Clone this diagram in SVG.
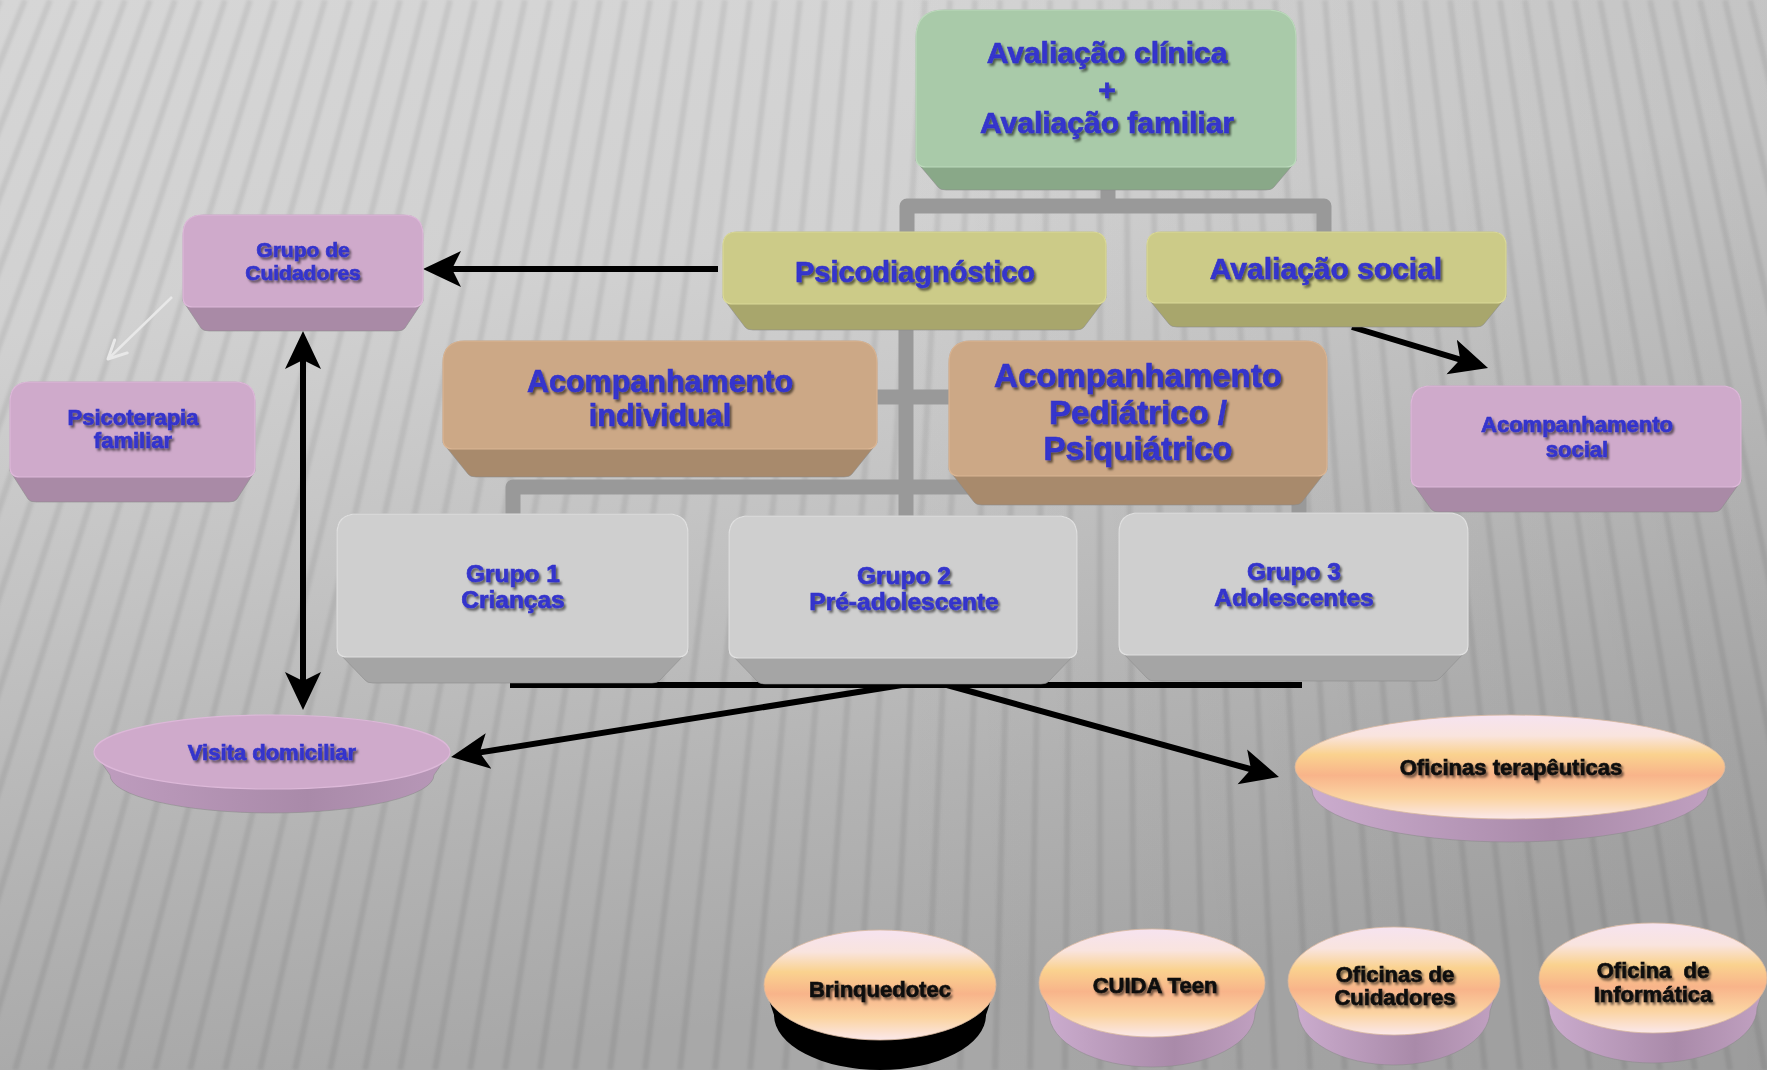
<svg xmlns="http://www.w3.org/2000/svg" width="1767" height="1070" viewBox="0 0 1767 1070">
<defs>
  <linearGradient id="bg" x1="0" y1="0" x2="0.2" y2="1">
    <stop offset="0" stop-color="#d6d6d6"/>
    <stop offset="0.3" stop-color="#d1d1d1"/>
    <stop offset="0.55" stop-color="#c3c3c3"/>
    <stop offset="0.8" stop-color="#b3b3b3"/>
    <stop offset="1" stop-color="#a8a8a8"/>
  </linearGradient>
  <linearGradient id="bgR" x1="0" y1="0" x2="1" y2="0">
    <stop offset="0.5" stop-color="#000" stop-opacity="0"/>
    <stop offset="1" stop-color="#000" stop-opacity="0.07"/>
  </linearGradient>
  <linearGradient id="peach" x1="0" y1="0" x2="0" y2="1">
    <stop offset="0" stop-color="#f6e3f0"/>
    <stop offset="0.2" stop-color="#f9e4de"/>
    <stop offset="0.38" stop-color="#fad28f"/>
    <stop offset="0.58" stop-color="#f8b48a"/>
    <stop offset="0.8" stop-color="#fbd4a2"/>
    <stop offset="1" stop-color="#fbe8ea"/>
  </linearGradient>
  <linearGradient id="lilac" x1="0" y1="0" x2="1" y2="0">
    <stop offset="0" stop-color="#cdaed0"/>
    <stop offset="0.6" stop-color="#a98aa9"/>
    <stop offset="1" stop-color="#c2a2c2"/>
  </linearGradient>
  <linearGradient id="pinkBody" x1="0" y1="0" x2="1" y2="0">
    <stop offset="0" stop-color="#bf9dbf"/>
    <stop offset="0.6" stop-color="#a98aa9"/>
    <stop offset="1" stop-color="#b898b8"/>
  </linearGradient>
  <filter id="ts" x="-10%" y="-30%" width="120%" height="160%">
    <feDropShadow dx="2" dy="2.5" stdDeviation="1.2" flood-color="#000" flood-opacity="0.55"/>
  </filter>
  <filter id="blur" x="-5%" y="-5%" width="110%" height="110%">
    <feGaussianBlur stdDeviation="1.6"/>
  </filter>
  <marker id="ah" viewBox="0 0 40 40" markerWidth="40" markerHeight="40" refX="10" refY="20" orient="auto-start-reverse" markerUnits="userSpaceOnUse">
    <path d="M0,2 L38,20 L0,38 L9,20 Z" fill="#000"/>
  </marker>
  <marker id="ahl" viewBox="0 0 24 24" markerWidth="24" markerHeight="24" refX="21" refY="12" orient="auto" markerUnits="userSpaceOnUse">
    <path d="M3,3 L21,12 L3,21" fill="none" stroke="#e8e8e8" stroke-width="3" stroke-linecap="round" stroke-linejoin="round"/>
  </marker>
</defs>
<style>
  .t { font-family: "Liberation Sans", Arial, sans-serif; font-weight: bold; text-anchor: middle; fill: #3434cc; stroke: #3434cc; stroke-width: 0.7; filter: url(#ts); }
  .k { fill: #111; stroke: #111; }
  .edge { stroke: #8a8a8a; stroke-width: 0.8; stroke-opacity: 0.7; }
  .gb { fill: #89a888; } .gf { fill: #a9caa9; stroke: #bcdabc; stroke-width: 1.2; }
  .yb { fill: #a8a66c; } .yf { fill: #cccb88; stroke: #dad997; stroke-width: 1.2; }
  .tb { fill: #a88a6c; } .tf { fill: #cca886; stroke: #dab593; stroke-width: 1.2; }
  .pb { fill: #a98aa6; } .pf { fill: #cfaacb; stroke: #ddb8d9; stroke-width: 1.2; }
  .sb { fill: #a5a5a5; } .sf { fill: #cfcfcf; stroke: #e0e0e0; stroke-width: 1.2; }
  .gray { fill: none; stroke: #999; stroke-width: 15; stroke-linejoin: round; }
  .blk { fill: none; stroke: #000; stroke-width: 6; }
</style>

<rect x="0" y="0" width="1767" height="1070" fill="url(#bg)"/>
<rect x="0" y="0" width="1767" height="1070" fill="url(#bgR)"/>
<g filter="url(#blur)" stroke="#000" stroke-opacity="0.07" stroke-width="6" fill="none">
  <path d="M0,0 L-440,1070 M25,0 L-405,1070 M50,0 L-370,1070 M75,0 L-335,1070 M100,0 L-300,1070 M125,0 L-265,1070 M150,0 L-230,1070 M175,0 L-195,1070 M200,0 L-160,1070 M225,0 L-125,1070 M250,0 L-90,1070 M275,0 L-55,1070 M300,0 L-20,1070 M325,0 L15,1070 M350,0 L50,1070 M375,0 L85,1070 M400,0 L120,1070 M425,0 L155,1070 M450,0 L190,1070 M475,0 L225,1070 M500,0 L260,1070 M525,0 L295,1070 M550,0 L330,1070 M575,0 L365,1070 M600,0 L400,1070 M625,0 L435,1070 M650,0 L470,1070 M675,0 L505,1070 M700,0 L540,1070 M725,0 L575,1070 M750,0 L610,1070 M775,0 L645,1070 M800,0 L680,1070 M825,0 L715,1070 M850,0 L750,1070 M875,0 L785,1070 M900,0 L820,1070 M925,0 L855,1070 M950,0 L890,1070 M975,0 L925,1070 M1000,0 L960,1070 M1025,0 L995,1070 M1050,0 L1030,1070 M1075,0 L1065,1070 M1100,0 L1100,1070 M1125,0 L1135,1070 M1150,0 L1170,1070 M1175,0 L1205,1070 M1200,0 L1240,1070 M1225,0 L1275,1070 M1250,0 L1310,1070 M1275,0 L1345,1070 M1300,0 L1380,1070 M1325,0 L1415,1070 M1350,0 L1450,1070 M1375,0 L1485,1070 M1400,0 L1520,1070 M1425,0 L1555,1070 M1450,0 L1590,1070 M1475,0 L1625,1070 M1500,0 L1660,1070 M1525,0 L1695,1070 M1550,0 L1730,1070 M1575,0 L1765,1070 M1600,0 L1800,1070 M1625,0 L1835,1070 M1650,0 L1870,1070 M1675,0 L1905,1070 M1700,0 L1940,1070 M1725,0 L1975,1070 M1750,0 L2010,1070 M1775,0 L2045,1070"/>
</g>

<g id="connectors">
  <path class="gray" d="M1108,185 V206"/>
  <path class="gray" d="M907,236 V206 H1324 V236"/>
  <path class="gray" d="M906,326 V520"/>
  <path class="gray" d="M873,397 H953"/>
  <path class="gray" d="M513,518 V487 H1299 V517"/>
  <path class="blk" d="M510,685 H1302"/>
  <path class="blk" d="M718,269 H451" marker-end="url(#ah)"/>
  <path class="blk" d="M303,359 V682" marker-start="url(#ah)" marker-end="url(#ah)"/>
  <path class="blk" d="M902,685 L478.7,752.6" marker-end="url(#ah)"/>
  <path class="blk" d="M947,685 L1252,769.5" marker-end="url(#ah)"/>
  <path class="blk" d="M1352,327 L1461.2,359.9" marker-end="url(#ah)"/>
  <path d="M172,297 L108,359" fill="none" stroke="#e8e8e8" stroke-width="2.5" marker-end="url(#ahl)"/>
</g>

<g id="avaliacao-clinica">
  <path class="gb edge" d="M944,10 H1268 Q1296,10 1296,38 V161 L1274,187 Q1272,190 1266,190 H946 Q940,190 938,187 L916,161 V38 Q916,10 944,10 Z"/>
  <path class="gf" d="M944,10 H1268 Q1296,10 1296,38 V157 Q1296,167 1286,167 H926 Q916,167 916,157 V38 Q916,10 944,10 Z"/>
  <text class="t" x="1107" y="63" font-size="30">Avaliação clínica</text>
  <text class="t" x="1107" y="100" font-size="30">+</text>
  <text class="t" x="1107" y="133" font-size="30">Avaliação familiar</text>
</g>

<g id="psicodiagnostico">
  <path class="yb edge" d="M737,232 H1092 Q1106,232 1106,246 V298 L1084,327 Q1082,330 1076,330 H753 Q747,330 745,327 L723,298 V246 Q723,232 737,232 Z"/>
  <path class="yf" d="M737,232 H1092 Q1106,232 1106,246 V294 Q1106,304 1096,304 H733 Q723,304 723,294 V246 Q723,232 737,232 Z"/>
  <text class="t" x="915" y="282" font-size="29">Psicodiagnóstico</text>
</g>

<g id="avaliacao-social">
  <path class="yb edge" d="M1161,232 H1492 Q1506,232 1506,246 V297 L1484,324 Q1482,327 1476,327 H1177 Q1171,327 1169,324 L1147,297 V246 Q1147,232 1161,232 Z"/>
  <path class="yf" d="M1161,232 H1492 Q1506,232 1506,246 V293 Q1506,303 1496,303 H1157 Q1147,303 1147,293 V246 Q1147,232 1161,232 Z"/>
  <text class="t" x="1326" y="279" font-size="30">Avaliação social</text>
</g>

<g id="grupo-cuidadores">
  <path class="pb edge" d="M203,215 H403 Q423,215 423,235 V301 L405,328 Q403,331 397,331 H209 Q203,331 201,328 L183,301 V235 Q183,215 203,215 Z"/>
  <path class="pf" d="M203,215 H403 Q423,215 423,235 V297 Q423,307 413,307 H193 Q183,307 183,297 V235 Q183,215 203,215 Z"/>
  <text class="t" x="303" y="257" font-size="21">Grupo de</text>
  <text class="t" x="303" y="280" font-size="21">Cuidadores</text>
</g>

<g id="psicoterapia-familiar">
  <path class="pb edge" d="M30,382 H235 Q255,382 255,402 V471 L237,499 Q235,502 229,502 H36 Q30,502 28,499 L10,471 V402 Q10,382 30,382 Z"/>
  <path class="pf" d="M30,382 H235 Q255,382 255,402 V467 Q255,477 245,477 H20 Q10,477 10,467 V402 Q10,382 30,382 Z"/>
  <text class="t" x="133" y="425" font-size="22">Psicoterapia</text>
  <text class="t" x="133" y="448" font-size="22">familiar</text>
</g>

<g id="acompanhamento-individual">
  <path class="tb edge" d="M465,341 H855 Q877,341 877,363 V443 L852,474 Q850,477 844,477 H476 Q470,477 468,474 L443,443 V363 Q443,341 465,341 Z"/>
  <path class="tf" d="M465,341 H855 Q877,341 877,363 V439 Q877,449 867,449 H453 Q443,449 443,439 V363 Q443,341 465,341 Z"/>
  <text class="t" x="660" y="392" font-size="30.5">Acompanhamento</text>
  <text class="t" x="660" y="426" font-size="30.5">individual</text>
</g>

<g id="acompanhamento-pediatrico">
  <path class="tb edge" d="M971,341 H1305 Q1327,341 1327,363 V470 L1302,502 Q1300,505 1294,505 H982 Q976,505 974,502 L949,470 V363 Q949,341 971,341 Z"/>
  <path class="tf" d="M971,341 H1305 Q1327,341 1327,363 V466 Q1327,476 1317,476 H959 Q949,476 949,466 V363 Q949,341 971,341 Z"/>
  <text class="t" x="1138" y="387" font-size="33">Acompanhamento</text>
  <text class="t" x="1138" y="424" font-size="33">Pediátrico /</text>
  <text class="t" x="1138" y="460" font-size="33">Psiquiátrico</text>
</g>

<g id="acompanhamento-social">
  <path class="pb edge" d="M1431,386 H1721 Q1741,386 1741,406 V481 L1721,509 Q1719,512 1713,512 H1439 Q1433,512 1431,509 L1411,481 V406 Q1411,386 1431,386 Z"/>
  <path class="pf" d="M1431,386 H1721 Q1741,386 1741,406 V477 Q1741,487 1731,487 H1421 Q1411,487 1411,477 V406 Q1411,386 1431,386 Z"/>
  <text class="t" x="1577" y="432" font-size="22">Acompanhamento</text>
  <text class="t" x="1577" y="457" font-size="22">social</text>
</g>

<g id="grupo-1">
  <path class="sb edge" d="M357,514 H668 Q688,514 688,534 V651 L660,680 Q658,683 652,683 H373 Q367,683 365,680 L337,651 V534 Q337,514 357,514 Z"/>
  <path class="sf" d="M357,514 H668 Q688,514 688,534 V647 Q688,657 678,657 H347 Q337,657 337,647 V534 Q337,514 357,514 Z"/>
  <text class="t" x="513" y="582" font-size="24.5">Grupo 1</text>
  <text class="t" x="513" y="608" font-size="24.5">Crianças</text>
</g>

<g id="grupo-2">
  <path class="sb edge" d="M749,516 H1057 Q1077,516 1077,536 V652 L1049,681 Q1047,684 1041,684 H765 Q759,684 757,681 L729,652 V536 Q729,516 749,516 Z"/>
  <path class="sf" d="M749,516 H1057 Q1077,516 1077,536 V648 Q1077,658 1067,658 H739 Q729,658 729,648 V536 Q729,516 749,516 Z"/>
  <text class="t" x="904" y="584" font-size="24.5">Grupo 2</text>
  <text class="t" x="904" y="610" font-size="24.5">Pré-adolescente</text>
</g>

<g id="grupo-3">
  <path class="sb edge" d="M1139,513 H1448 Q1468,513 1468,533 V649 L1440,678 Q1438,681 1432,681 H1155 Q1149,681 1147,678 L1119,649 V533 Q1119,513 1139,513 Z"/>
  <path class="sf" d="M1139,513 H1448 Q1468,513 1468,533 V645 Q1468,655 1458,655 H1129 Q1119,655 1119,645 V533 Q1119,513 1139,513 Z"/>
  <text class="t" x="1294" y="580" font-size="24.5">Grupo 3</text>
  <text class="t" x="1294" y="606" font-size="24.5">Adolescentes</text>
</g>

<g id="visita-domiciliar">
  <path d="M94,752 L110,775 A162,38 0 0 0 434,775 L450,752 Z" fill="url(#pinkBody)" class="edge"/>
  <ellipse cx="272" cy="752" rx="178" ry="37" fill="#cfaacb" stroke="#dcb8d8" stroke-width="1.2"/>
  <text class="t" x="272" y="760" font-size="22">Visita domiciliar</text>
</g>

<g id="oficinas-terapeuticas">
  <path d="M1295,767 L1312,790 A198,52 0 0 0 1708,790 L1725,767 Z" fill="url(#lilac)" class="edge"/>
  <ellipse cx="1510" cy="767" rx="215" ry="52" fill="url(#peach)" stroke="#d9b9a0" stroke-width="0.8"/>
  <text class="t k" x="1511" y="775" font-size="22">Oficinas terapêuticas</text>
</g>

<g id="brinquedotec">
  <path d="M764,985 L774,1015 A106,55 0 0 0 986,1015 L996,985 Z" fill="#000"/>
  <ellipse cx="880" cy="985" rx="116" ry="55" fill="url(#peach)" stroke="#d9b9a0" stroke-width="0.8"/>
  <text class="t k" x="880" y="997" font-size="22">Brinquedotec</text>
</g>

<g id="cuida-teen">
  <path d="M1039,983 L1049,1013 A103,54 0 0 0 1255,1013 L1265,983 Z" fill="url(#lilac)" class="edge"/>
  <ellipse cx="1152" cy="983" rx="113" ry="54" fill="url(#peach)" stroke="#d9b9a0" stroke-width="0.8"/>
  <text class="t k" x="1155" y="993" font-size="22">CUIDA Teen</text>
</g>

<g id="oficinas-cuidadores">
  <path d="M1288,981 L1298,1011 A96,54 0 0 0 1490,1011 L1500,981 Z" fill="url(#lilac)" class="edge"/>
  <ellipse cx="1394" cy="981" rx="106" ry="54" fill="url(#peach)" stroke="#d9b9a0" stroke-width="0.8"/>
  <text class="t k" x="1395" y="982" font-size="22">Oficinas de</text>
  <text class="t k" x="1395" y="1005" font-size="22">Cuidadores</text>
</g>

<g id="oficina-informatica">
  <path d="M1539,978 L1549,1008 A104,55 0 0 0 1757,1008 L1767,978 Z" fill="url(#lilac)" class="edge"/>
  <ellipse cx="1653" cy="978" rx="114" ry="55" fill="url(#peach)" stroke="#d9b9a0" stroke-width="0.8"/>
  <text class="t k" x="1653" y="978" font-size="22" style="white-space:pre">Oficina  de</text>
  <text class="t k" x="1653" y="1002" font-size="22">Informática</text>
</g>
</svg>
